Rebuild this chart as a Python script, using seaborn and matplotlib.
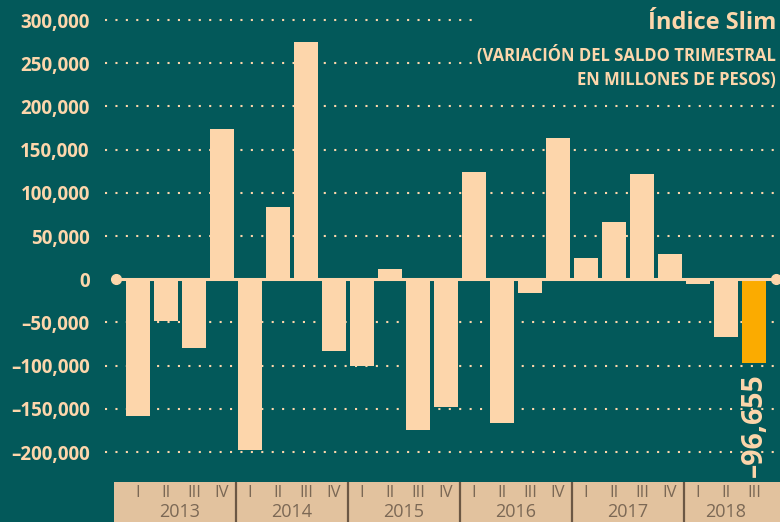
import matplotlib
matplotlib.use("Agg")
import matplotlib.pyplot as plt
import seaborn as sns
import pandas as pd

# quarterly change of the index (millions of pesos)
years = ["2013", "2014", "2015", "2016", "2017", "2018"]
quarters = ["I", "II", "III", "IV"]
quarters_per_year = [4, 4, 4, 4, 4, 3]
values = [-158000, -48000, -80000, 174000,
          -198000, 84000, 274000, -83000,
          -101000, 12000, -174000, -148000,
          124000, -166000, -16000, 163000,
          24000, 66000, 122000, 29000,
          -5000, -67000, -96655]
yticks = [-200000, -150000, -100000, -50000, 0, 50000, 100000, 150000, 200000, 250000, 300000]
title = "Índice Slim"
subtitle = ["(VARIACIÓN DEL SALDO TRIMESTRAL", "EN MILLONES DE PESOS)"]

teal = "#03595a"
peach = "#fdd6ab"
orange = "#fbab00"
tan = "#e2c29e"
brown = "#7b6855"

periods = []
quarter_names = []
for y, n in zip(years, quarters_per_year):
    for q in quarters[:n]:
        periods.append(f"{y} {q}")
        quarter_names.append(q)

df = pd.DataFrame({"period": periods, "value": values})
df["latest"] = df.index == len(df) - 1

fig = plt.figure(figsize=(7.8, 5.22), dpi=100, facecolor=teal)
ax = fig.add_axes([105 / 780, 40 / 522, 673 / 780, 482 / 522])
ax.set_facecolor(teal)

sns.barplot(data=df, x="period", y="value", hue="latest",
            palette={False: peach, True: orange}, width=0.86,
            saturation=1, linewidth=0, legend=False, ax=ax, zorder=2)

ax.set_xlim(-1.18, 22.86)
ax.set_ylim(-234700, 323150)

# dotted grid, the two top lines stop before the title
for v in yticks:
    if v == 0:
        continue
    xmax = 0.545 if v >= 250000 else 1
    ax.axhline(v, xmin=0, xmax=xmax, color=peach, lw=1.5, dashes=(1, 4), zorder=1)

# zero line with dots at both ends
ax.plot([-0.79, len(df) - 1 + 0.79], [0, 0], color=peach, lw=2.2,
        marker="o", markersize=7, zorder=3, clip_on=False)

ax.set_yticks(yticks)
ax.set_yticklabels([f"{v:,}".replace("-", "–") for v in yticks],
                   fontfamily="Open Sans", fontweight="bold", fontsize=13.5, color=peach)
ax.tick_params(axis="y", length=0, pad=11)
ax.set_xticks([])
ax.set_xlabel("")
ax.set_ylabel("")
for s in ax.spines.values():
    s.set_visible(False)

# label for the latest quarter
last = len(df) - 1
ax.text(last, values[-1] - 12000, f"{values[-1]:,}".replace("-", "–"), rotation=90,
        ha="center", va="top", color=peach, fontfamily="Open Sans",
        fontweight="bold", fontsize=20.5, zorder=4)

fig.text(776 / 780, 1 - 23 / 522, title, ha="right", va="center", color=peach,
         fontfamily="Open Sans", fontweight="bold", fontsize=17)
fig.text(776 / 780, 1 - 55 / 522, subtitle[0], ha="right", va="center", color=peach,
         fontfamily="Open Sans", fontweight="bold", fontsize=12)
fig.text(776 / 780, 1 - 80 / 522, subtitle[1], ha="right", va="center", color=peach,
         fontfamily="Open Sans", fontweight="bold", fontsize=12)

# quarter / year band at the bottom
band = fig.add_axes([114 / 780, 0, 666 / 780, 40 / 522])
band.set_facecolor(tan)
band.set_xlim(-0.857, 22.93)
band.set_ylim(0, 1)
band.set_xticks([])
band.set_yticks([])
for s in band.spines.values():
    s.set_visible(False)

for i, q in enumerate(quarter_names):
    band.text(i, 0.72, q, ha="center", va="center", color=brown,
              fontfamily="Open Sans", fontsize=12)
start = 0
for y, n in zip(years, quarters_per_year):
    band.text(start + (n - 1) / 2, 0.26, y, ha="center", va="center", color=brown,
              fontfamily="Open Sans", fontsize=13)
    start += n
    if start < len(df):
        band.axvline(start - 0.5, color="#6b5744", lw=1.6)

fig.savefig("out.png", dpi=100, facecolor=teal)
